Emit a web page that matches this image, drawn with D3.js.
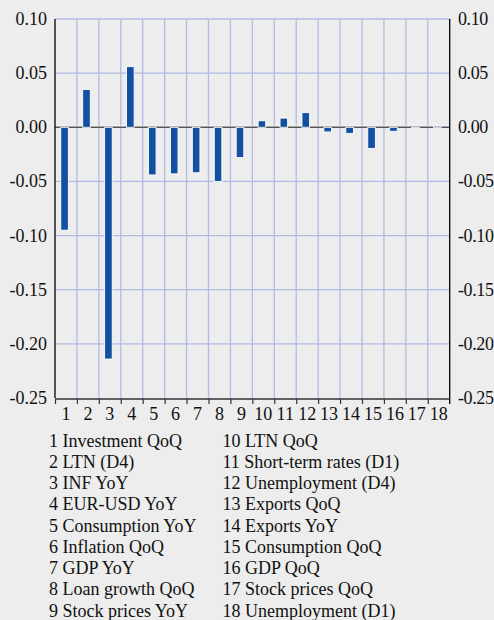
<!DOCTYPE html>
<html lang="en">
<head>
  <meta charset="UTF-8">
  <title>Bar chart</title>
  <script src="https://d3js.org/d3.v7.min.js"></script>
  <style>
    html, body { margin: 0; padding: 0; background: #ecedec; }
    svg { display: block; }
    text { font-family: "Liberation Serif", "Times New Roman", serif; fill: #111; }
  </style>
</head>
<body>
  <svg id="chart"></svg>

  <script>
    // data
    const categories = d3.range(1, 19);
    const values = [-0.095, 0.035, -0.214, 0.056, -0.044, -0.043, -0.042, -0.050, -0.028,
                    0.006, 0.0085, 0.0135, -0.0043, -0.0056, -0.0195, -0.0037, -0.001, 0.0012];
    const names = ["Investment QoQ", "LTN (D4)", "INF YoY", "EUR-USD YoY", "Consumption YoY",
                   "Inflation QoQ", "GDP YoY", "Loan growth QoQ", "Stock prices YoY",
                   "LTN QoQ", "Short-term rates (D1)", "Unemployment (D4)", "Exports QoQ",
                   "Exports YoY", "Consumption QoQ", "GDP QoQ", "Stock prices QoQ",
                   "Unemployment (D1)"];
    const yTicks = [0.10, 0.05, 0.00, -0.05, -0.10, -0.15, -0.20, -0.25];

    const width = 494, height = 620;
    const svg = d3.select("#chart").attr("width", width).attr("height", height);

    const x = d3.scaleBand().domain(categories).range([55, 449.7]).padding(0);
    const y = d3.scaleLinear().domain([-0.25, 0.10]).range([398, 19]);

    // horizontal grid
    svg.append("g")
      .selectAll("line")
      .data(yTicks.filter(d => d !== 0 && d !== -0.25))
      .enter().append("line")
      .attr("x1", 55).attr("x2", 449.7)
      .attr("y1", d => y(d)).attr("y2", d => y(d))
      .style("stroke", "#b2bae6")
      .style("stroke-width", 1.3);

    // vertical grid between categories
    svg.append("g")
      .selectAll("line")
      .data(categories.slice(1))
      .enter().append("line")
      .attr("x1", d => x(d)).attr("x2", d => x(d))
      .attr("y1", y(0.10)).attr("y2", y(-0.25))
      .style("stroke", "#b2bae6")
      .style("stroke-width", 1.3);

    // zero line
    svg.append("line")
      .attr("x1", 55).attr("x2", 449.7)
      .attr("y1", y(0) - 1.2).attr("y2", y(0) - 1.2)
      .style("stroke", "#fff")
      .style("stroke-width", 1);
    svg.append("line")
      .attr("x1", 55).attr("x2", 449.7)
      .attr("y1", y(0)).attr("y2", y(0))
      .style("stroke", "#555")
      .style("stroke-width", 1.6);

    // bars
    const barW = 7.6;
    svg.append("g")
      .selectAll("rect")
      .data(values)
      .enter().append("rect")
      .attr("x", (d, i) => x(categories[i]) + x.bandwidth() / 2 - 1.4 - barW / 2)
      .attr("width", barW)
      .attr("y", d => y(Math.max(0, d)))
      .attr("height", d => Math.abs(y(d) - y(0)))
      .style("fill", "#1350a2")
      .style("stroke", "#fff")
      .style("stroke-width", 0.9);

    // frame: left, right axes and bottom
    svg.append("line")
      .attr("x1", 55).attr("x2", 55).attr("y1", y(0.10)).attr("y2", y(-0.25))
      .style("stroke", "#000").style("stroke-width", 1.3);
    svg.append("line")
      .attr("x1", 449.7).attr("x2", 449.7).attr("y1", y(0.10)).attr("y2", y(-0.25) + 6)
      .style("stroke", "#000").style("stroke-width", 1.3);
    svg.append("line")
      .attr("x1", 55).attr("x2", 449.7).attr("y1", y(-0.25) + 1).attr("y2", y(-0.25) + 1)
      .style("stroke", "#333").style("stroke-width", 1.3);
    svg.append("g")
      .selectAll("line")
      .data(categories)
      .enter().append("line")
      .attr("x1", d => x(d) + 0.5).attr("x2", d => x(d) + 0.5)
      .attr("y1", y(-0.25) + 1).attr("y2", y(-0.25) + 6)
      .style("stroke", "#333").style("stroke-width", 1.2);

    // plain hyphen for negatives, as in the original
    const fmt = d => d3.format(".2f")(d).replace("\u2212", "-");

    // left tick labels
    svg.append("g")
      .selectAll("text")
      .data(yTicks)
      .enter().append("text")
      .attr("x", 47)
      .attr("y", d => y(d) + 6)
      .attr("text-anchor", "end")
      .style("font-size", "18px")
      .text(fmt);

    // right tick labels
    svg.append("g")
      .selectAll("text")
      .data(yTicks)
      .enter().append("text")
      .attr("x", 458)
      .attr("y", d => y(d) + 6)
      .attr("text-anchor", "start")
      .style("font-size", "18px")
      .style("letter-spacing", "-0.4px")
      .text(fmt);

    // category numbers
    svg.append("g")
      .selectAll("text")
      .data(categories)
      .enter().append("text")
      .attr("x", d => x(d) + x.bandwidth() / 2)
      .attr("y", 420)
      .attr("text-anchor", "middle")
      .style("font-size", "18px")
      .text(d => d);

    // legend in two columns
    svg.append("g")
      .selectAll("text")
      .data(names)
      .enter().append("text")
      .attr("x", (d, i) => i < 9 ? 49 : 222.5)
      .attr("y", (d, i) => 446.7 + (i % 9) * 21.25)
      .style("font-size", "18px")
      .text((d, i) => categories[i] + " " + d);
  </script>
</body>
</html>
